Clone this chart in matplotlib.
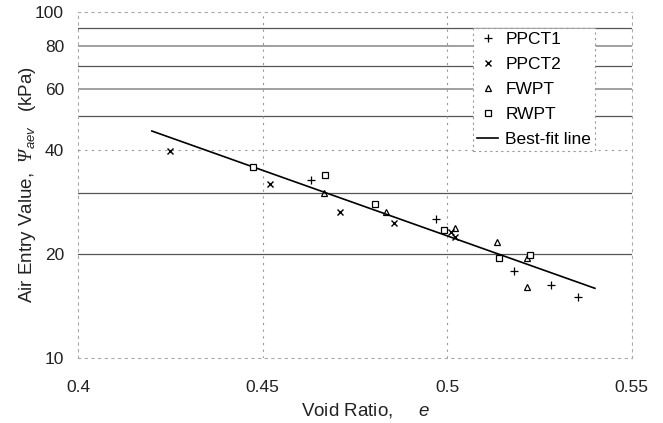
import numpy as np
import matplotlib
matplotlib.use("Agg")
import matplotlib.pyplot as plt
from matplotlib.ticker import FixedLocator, NullLocator, FixedFormatter

plt.rcParams['font.family'] = ['Liberation Sans', 'DejaVu Sans']
plt.rcParams['mathtext.fontset'] = 'custom'
plt.rcParams['mathtext.it'] = 'Liberation Sans:italic'
plt.rcParams['mathtext.sf'] = 'Liberation Serif:italic'

# data
ppct1_e = [0.463, 0.497, 0.518, 0.528, 0.5355]
ppct1_psi = [32.6, 25.3, 17.8, 16.3, 15.0]
ppct2_e = [0.425, 0.452, 0.471, 0.4857, 0.501, 0.502]
ppct2_psi = [39.6, 31.9, 26.4, 24.6, 23.2, 22.3]
fwpt_e = [0.4665, 0.4834, 0.502, 0.5135, 0.5217, 0.5217]
fwpt_psi = [29.9, 26.5, 23.8, 21.6, 19.5, 16.0]
rwpt_e = [0.4475, 0.467, 0.4805, 0.499, 0.514, 0.5224]
rwpt_psi = [35.7, 33.7, 27.8, 23.5, 19.5, 19.8]
fit_e = [0.42, 0.54]
fit_psi = [45.3, 15.9]

yticks = [10, 20, 40, 60, 80, 100]
xticks = [0.4, 0.45, 0.5, 0.55]
dark_grid = [20, 30, 50, 70, 90]
light_grid = [60, 80]
dotted_grid = [40]

fig = plt.figure(figsize=(6.63, 4.23), dpi=100)
ax = fig.add_axes([0.1176, 0.1537, 0.8354, 0.8179])
ax.set_yscale('log')
ax.set_xlim(0.4, 0.55)
ax.set_ylim(10, 100)

for g in dark_grid:
    ax.axhline(g, color='#555555', lw=0.9, zorder=1)
for g in light_grid:
    ax.axhline(g, color='#999999', lw=1.3, zorder=1)
for g in dotted_grid:
    ax.axhline(g, color='#999999', lw=0.8, ls=(0, (2, 4)), zorder=1)
for g in [0.45, 0.5]:
    ax.axvline(g, color='#999999', lw=0.8, ls=(0, (2, 4)), zorder=1)

for s in ax.spines.values():
    s.set_color('#aaaaaa')
    s.set_linestyle((0, (2, 4)))
    s.set_linewidth(0.8)

ms = 5
ax.plot(ppct1_e, ppct1_psi, ls='none', marker='+', ms=6, mew=0.9, color='black', label='PPCT1', zorder=3)
ax.plot(ppct2_e, ppct2_psi, ls='none', marker='x', ms=5, mew=1.0, color='black', label='PPCT2', zorder=3)
ax.plot(fwpt_e, fwpt_psi, ls='none', marker='^', ms=ms, mew=0.9, mfc='none', mec='black', label='FWPT', zorder=3)
ax.plot(rwpt_e, rwpt_psi, ls='none', marker='s', ms=ms, mew=0.9, mfc='white', mec='black', label='RWPT', zorder=3)
ax.plot(fit_e, fit_psi, color='black', lw=1.2, label='Best-fit line', zorder=2)

ax.yaxis.set_major_locator(FixedLocator(yticks))
ax.yaxis.set_major_formatter(FixedFormatter([str(t) for t in yticks]))
ax.yaxis.set_minor_locator(NullLocator())
ax.set_xticks(xticks)
ax.set_xticklabels(['0.4', '0.45', '0.5', '0.55'])
ax.tick_params(axis='y', length=0, labelsize=12.5, colors='#222222', pad=10)
ax.tick_params(axis='x', length=0, labelsize=12.5, colors='#222222', pad=16)

ax.set_xlabel('Void Ratio,     $e$', fontsize=13.5, color='#222222')
ax.xaxis.set_label_coords(0.52, -0.125)
ax.set_ylabel(r'Air Entry Value,  $\mathsf{\Psi}_{aev}$   (kPa)', fontsize=13.5, color='#222222', labelpad=-2)

leg = ax.legend(loc='upper right', bbox_to_anchor=(0.95, 0.98), fontsize=12.5,
                handlelength=1.2, handletextpad=0.4, labelspacing=0.56,
                borderpad=0.25, fancybox=False, framealpha=1, edgecolor='#999999')
leg.get_frame().set_linestyle((0, (2, 3)))
leg.get_frame().set_linewidth(0.8)

fig.savefig('out.png', dpi=100)
